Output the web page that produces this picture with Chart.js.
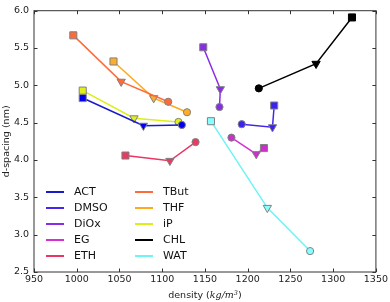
<!DOCTYPE html>
<html>
<head>
<meta charset="utf-8">
<script src="https://cdn.jsdelivr.net/npm/chart.js@4.4.1/dist/chart.umd.min.js"></script>
<style>
  html, body { margin: 0; padding: 0; background: #fff; }
  canvas { display: block; }
</style>
</head>
<body>
<canvas id="chart" width="390" height="302"></canvas>
<script>
// solvents, in legend order
const solvents = ['ACT', 'DMSO', 'DiOx', 'EG', 'ETH', 'TBut', 'THF', 'iP', 'CHL', 'WAT'];
const colors = ['#1a1acc', '#4426ee', '#8a2be6', '#d42fd4', '#ec3563', '#ff6a3a', '#ffaa1e', '#dcee1a', '#000000', '#6ef4f4'];
const markerFills = ['#0000ee', '#3a22f0', '#8a2be6', '#cc2fcc', '#ea3a60', '#ff6a3a', '#ffad28', '#e0f01a', '#000000', '#88ffff'];

// three points per solvent: square -> triangle -> circle
const squareDensity = [1007, 1231, 1148, 1219, 1057, 996, 1043, 1007, 1322, 1157];
const squareSpacing = [4.83, 4.73, 5.51, 4.16, 4.06, 5.67, 5.32, 4.93, 5.91, 4.52];
const triangleDensity = [1078, 1229, 1168, 1210, 1109, 1052, 1090, 1067, 1280, 1223];
const triangleSpacing = [4.46, 4.44, 4.95, 4.08, 3.99, 5.05, 4.83, 4.56, 5.29, 3.36];
const circleDensity = [1123, 1193, 1167, 1181, 1139, 1107, 1129, 1119, 1213, 1273];
const circleSpacing = [4.47, 4.48, 4.71, 4.30, 4.24, 4.78, 4.64, 4.51, 4.96, 2.78];

const xTicks = [950, 1000, 1050, 1100, 1150, 1200, 1250, 1300, 1350];
const yTicks = [2.5, 3.0, 3.5, 4.0, 4.5, 5.0, 5.5, 6.0];

const FONT = "'DejaVu Sans', sans-serif";

const datasets = solvents.map((name, i) => ({
    label: name,
    data: [
        {x: squareDensity[i], y: squareSpacing[i]},
        {x: triangleDensity[i], y: triangleSpacing[i]},
        {x: circleDensity[i], y: circleSpacing[i]}
    ],
    borderColor: colors[i],
    borderWidth: 1.5,
    pointStyle: ['rect', 'triangle', 'circle'],
    pointRotation: [0, 180, 0],
    pointRadius: [5, 4.8, 3.6],
    pointBackgroundColor: markerFills[i],
    pointBorderColor: i === 8 ? '#000000' : '#808080',
    pointBorderWidth: 1,
    showLine: true,
    fill: false
}));

// axes frame with inward ticks on all four sides
const frame = {
    id: 'frame',
    beforeDatasetsDraw(chart) {
        const {ctx, chartArea: a, scales: {x, y}} = chart;
        ctx.save();
        ctx.strokeStyle = '#333';
        ctx.lineWidth = 1;
        ctx.strokeRect(a.left, a.top, a.right - a.left, a.bottom - a.top);
        const t = 3.5;
        ctx.beginPath();
        xTicks.forEach(v => {
            const px = Math.round(x.getPixelForValue(v)) + 0.5;
            ctx.moveTo(px, a.bottom); ctx.lineTo(px, a.bottom - t);
            ctx.moveTo(px, a.top); ctx.lineTo(px, a.top + t);
        });
        yTicks.forEach(v => {
            const py = Math.round(y.getPixelForValue(v)) + 0.5;
            ctx.moveTo(a.left, py); ctx.lineTo(a.left + t, py);
            ctx.moveTo(a.right, py); ctx.lineTo(a.right - t, py);
        });
        ctx.stroke();
        ctx.restore();
    },
    afterDraw(chart) {
        const {ctx, chartArea: a} = chart;
        ctx.save();
        ctx.fillStyle = '#222';
        // y title
        ctx.font = '9.5px ' + FONT;
        ctx.translate(7, (a.top + a.bottom) / 2);
        ctx.rotate(-Math.PI / 2);
        ctx.textAlign = 'center';
        ctx.textBaseline = 'middle';
        ctx.fillText('d-spacing (nm)', 0, 0);
        ctx.setTransform(1, 0, 0, 1, 0, 0);
        // x title with math part
        const parts = [
            {t: 'density (', f: '9.5px ' + FONT, dy: 0},
            {t: 'kg/m', f: 'italic 9.5px "DejaVu Serif", serif', dy: 0},
            {t: '3', f: 'italic 6.5px "DejaVu Serif", serif', dy: -3.5},
            {t: ')', f: '9.5px ' + FONT, dy: 0}
        ];
        let w = 0;
        parts.forEach(p => { ctx.font = p.f; w += ctx.measureText(p.t).width; });
        let cx = (a.left + a.right) / 2 - w / 2;
        ctx.textAlign = 'left';
        ctx.textBaseline = 'alphabetic';
        parts.forEach(p => {
            ctx.font = p.f;
            ctx.fillText(p.t, cx, 298 + p.dy);
            cx += ctx.measureText(p.t).width;
        });
        // legend, two columns
        ctx.font = '11px ' + FONT;
        ctx.textBaseline = 'middle';
        solvents.forEach((name, i) => {
            const col = Math.floor(i / 5), row = i % 5;
            const lx = a.left + 12 + col * 89;
            const ly = 192 + row * 16;
            ctx.strokeStyle = colors[i];
            ctx.lineWidth = 2;
            ctx.beginPath();
            ctx.moveTo(lx, ly); ctx.lineTo(lx + 18, ly);
            ctx.stroke();
            ctx.fillStyle = '#111';
            ctx.fillText(name, lx + 28, ly + 0.5);
        });
        ctx.restore();
    }
};

new Chart(document.getElementById('chart'), {
    type: 'scatter',
    data: {datasets},
    options: {
        responsive: false,
        animation: false,
        layout: {padding: {top: 6, right: 13, left: 0, bottom: 0}},
        plugins: {legend: {display: false}, tooltip: {enabled: false}},
        scales: {
            x: {
                type: 'linear',
                min: 950,
                max: 1350,
                afterBuildTicks: s => { s.ticks = xTicks.map(v => ({value: v})); },
                afterFit: s => { s.height = 30; },
                grid: {display: false, drawTicks: false},
                border: {display: false},
                ticks: {padding: 2, color: '#222', font: {family: FONT, size: 9.5},
                        callback: v => String(v)}
            },
            y: {
                type: 'linear',
                min: 2.5,
                max: 6.0,
                afterBuildTicks: s => { s.ticks = yTicks.map(v => ({value: v})); },
                afterFit: s => { s.width = 34; },
                grid: {display: false, drawTicks: false},
                border: {display: false},
                ticks: {padding: 5, color: '#222', font: {family: FONT, size: 9.5},
                        callback: v => v.toFixed(1)}
            }
        }
    },
    plugins: [frame]
});
</script>
</body>
</html>
